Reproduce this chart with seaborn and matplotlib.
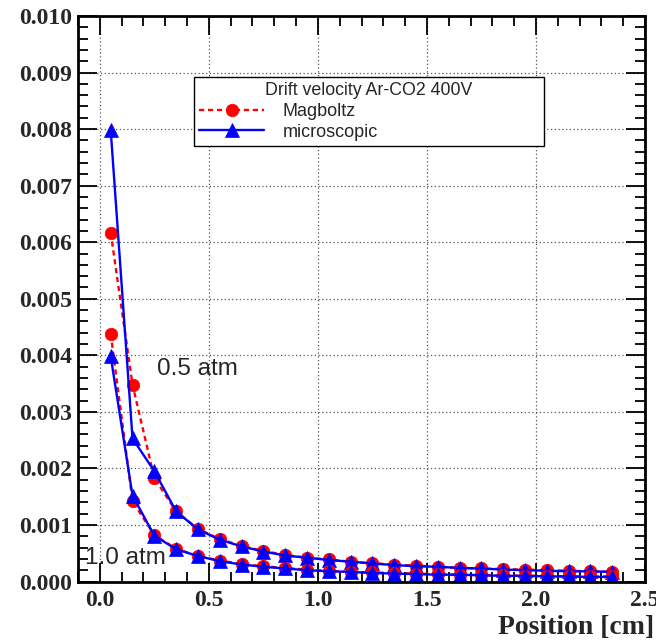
import numpy as np
import pandas as pd
import seaborn as sns
import matplotlib
matplotlib.use("Agg")
import matplotlib.pyplot as plt
from matplotlib.ticker import MultipleLocator, FormatStrFormatter

# ---------------- data ----------------
position = [0.05, 0.15, 0.25, 0.35, 0.45, 0.55, 0.65, 0.75, 0.85, 0.95,
            1.05, 1.15, 1.25, 1.35, 1.45, 1.55, 1.65, 1.75, 1.85, 1.95,
            2.05, 2.15, 2.25, 2.35]

magboltz_05 = [0.00617, 0.00348, 0.00183, 0.00124, 0.00093, 0.00075, 0.00063, 0.00054,
               0.00047, 0.00042, 0.00039, 0.00035, 0.00032, 0.00030, 0.00028, 0.00026,
               0.00024, 0.00023, 0.00022, 0.00021, 0.00020, 0.00019, 0.00018, 0.00017]
micro_05 = [0.00798, 0.00253, 0.00195, 0.00124, 0.00092, 0.00074, 0.00062, 0.00053,
            0.00046, 0.00042, 0.00038, 0.00035, 0.00032, 0.00029, 0.00027, 0.00026,
            0.00024, 0.00023, 0.00021, 0.00020, 0.00019, 0.00018, 0.00018, 0.00017]
magboltz_10 = [0.00438, 0.00142, 0.00082, 0.00058, 0.00045, 0.00037, 0.00031, 0.00027,
               0.00024, 0.00021, 0.00019, 0.00017, 0.00016, 0.00015, 0.00014, 0.00013,
               0.00012, 0.00011, 0.00011, 0.00010, 0.00010, 0.00009, 0.00009, 0.00009]
micro_10 = [0.00398, 0.00152, 0.00081, 0.00057, 0.00045, 0.00036, 0.00030, 0.00026,
            0.00023, 0.00020, 0.00018, 0.00017, 0.00015, 0.00014, 0.00013, 0.00012,
            0.00012, 0.00011, 0.00010, 0.00010, 0.00009, 0.00009, 0.00008, 0.00008]

legend_title = "Drift velocity Ar-CO2 400V"
label_mag = "Magboltz"
label_mic = "microscopic"
xlabel = "Position [cm]"

# ---------------- style ----------------
sns.set_style("ticks")
plt.rcParams["font.family"] = ["Liberation Sans", "DejaVu Sans"]

fig = plt.figure(figsize=(6.56, 6.44), dpi=100)
ax = fig.add_axes([78 / 656, (644 - 581.5) / 644, 567 / 656, 565.5 / 644])

red = "#ff0000"
blue = "#0000ff"

def draw(y, color, marker, ls, label):
    df = pd.DataFrame({"x": position, "y": y})
    sns.lineplot(data=df, x="x", y="y", ax=ax, color=color, marker=marker,
                 linestyle=ls, linewidth=1.7, markersize=9 if marker == "o" else 9.5,
                 markeredgecolor=color, markeredgewidth=0.5, label=label,
                 estimator=None, sort=False)

draw(magboltz_05, red, "o", (0, (2.2, 1.6)), label_mag)
draw(micro_05, blue, "^", "-", label_mic)
draw(magboltz_10, red, "o", (0, (2.2, 1.6)), "_nolegend_")
draw(micro_10, blue, "^", "-", "_nolegend_")

ax.set_xlim(-0.1, 2.5)
ax.set_ylim(0.0, 0.010)

ax.xaxis.set_major_locator(MultipleLocator(0.5))
ax.xaxis.set_minor_locator(MultipleLocator(0.1))
ax.yaxis.set_major_locator(MultipleLocator(0.001))
ax.yaxis.set_minor_locator(MultipleLocator(0.0002))
ax.xaxis.set_major_formatter(FormatStrFormatter("%.1f"))
ax.yaxis.set_major_formatter(FormatStrFormatter("%.3f"))

ax.tick_params(which="both", direction="in", top=True, right=True, width=1.3,
               color="black")
ax.tick_params(which="major", length=14)
ax.tick_params(which="minor", length=7.5)
ax.tick_params(axis="y", which="major", pad=4)
ax.tick_params(axis="x", which="major", pad=6)

for lab in ax.get_xticklabels() + ax.get_yticklabels():
    lab.set_fontfamily("Liberation Serif")
    lab.set_fontweight("bold")
    lab.set_fontsize(17)

for s in ax.spines.values():
    s.set_linewidth(2.0)
    s.set_color("black")

ax.grid(True, which="major", linestyle=(0, (1, 2)), color="#555555", linewidth=0.9)
ax.set_axisbelow(True)

ax.set_xlabel("")
ax.set_ylabel("")
fig.text(654 / 656, 1 - 628 / 644, xlabel, ha="right", va="center",
         fontfamily="Liberation Serif", fontweight="bold", fontsize=20)

ax.text(0.261, 0.00376, "0.5 atm", fontsize=17.5, ha="left", va="center")
ax.text(-0.069, 0.00042, "1.0 atm", fontsize=17.5, ha="left", va="center")

leg = ax.legend(loc="upper left", bbox_to_anchor=(0.2046, 0.770, 0.822 - 0.2046, 0.8921 - 0.770),
                mode="expand", title=legend_title, fontsize=13, title_fontsize=12.8,
                frameon=True, fancybox=False, edgecolor="black", framealpha=1,
                handlelength=3.6, borderpad=0.3, labelspacing=0.2, handletextpad=1.0,
                borderaxespad=0)
leg.get_frame().set_linewidth(1.0)

fig.savefig("out.png", dpi=100)
